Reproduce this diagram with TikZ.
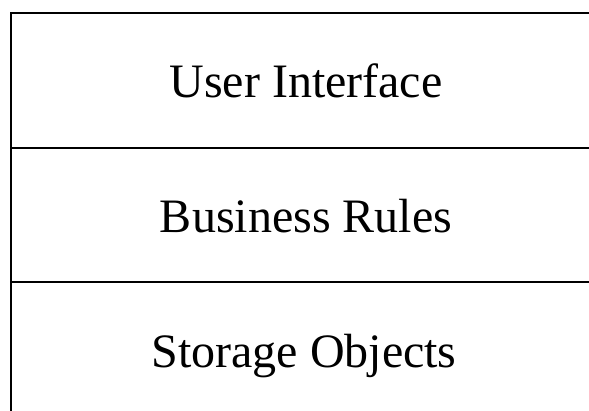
\documentclass[tikz,border=0pt]{standalone}
\usepackage{fontspec}
\setmainfont{Liberation Serif}
\usetikzlibrary{positioning}

\begin{document}
\begin{tikzpicture}
	[x=1pt,y=1pt,layer line/.style={line width=1.3pt,line cap=rect},
	layer label/.style={anchor=base,inner sep=0pt,font=\fontsize{48}{58}\selectfont}]
	\useasboundingbox (0,0) rectangle (589,410);
	\coordinate (top left) at (11,397);
	\coordinate (top right) at (589,397);
	\coordinate (mid1 left) at (11,262);
	\coordinate (mid1 right) at (589,262);
	\coordinate (mid2 left) at (11,128);
	\coordinate (mid2 right) at (589,128);
	\coordinate (bottom left) at (11,0);
	
	\node [layer label] (ui) at (306,312) {User Interface};
	\node [layer label] (rules) at (306,177.5) {Business Rules};
	\node [layer label] (storage) at (304,43) {Storage Objects};
	
	\path[draw,layer line]
	(bottom left) -- (top left) -- (top right)
	(mid1 left) -- (mid1 right)
	(mid2 left) -- (mid2 right)
	;
	
\end{tikzpicture}
\end{document}
